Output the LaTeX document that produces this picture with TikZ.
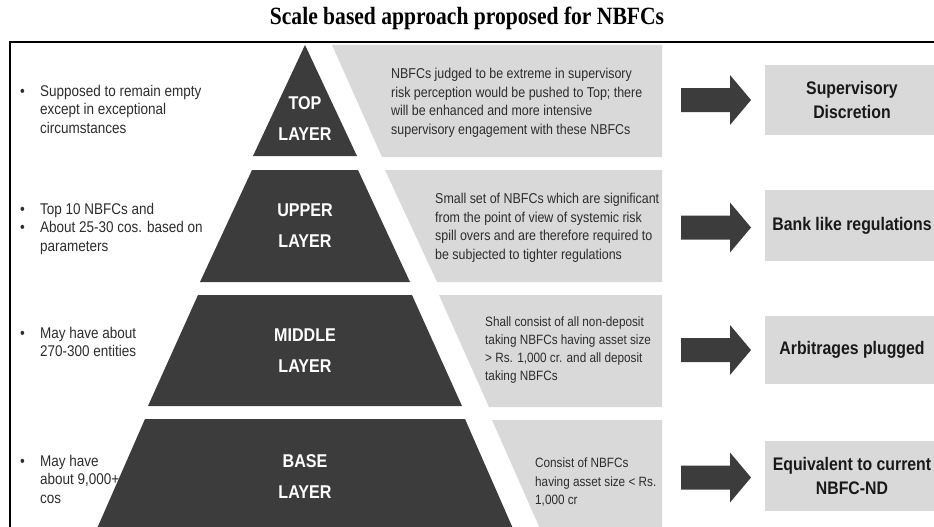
\documentclass[tikz,border=0pt]{standalone}
\usepackage{fontspec}
\usepackage{array}
\setmainfont{Liberation Sans}[FakeStretch=0.87]
\newfontfamily\titlefont{Liberation Serif}[FakeStretch=0.87]

\definecolor{pyr}{RGB}{60,60,60}
\definecolor{band}{RGB}{217,217,217}
\definecolor{txt}{RGB}{45,45,45}
\definecolor{boxtxt}{RGB}{25,25,25}

\tikzset{
  layerlabel/.style={text=white, font=\fontsize{18.5}{31}\selectfont\bfseries,
    align=center, inner sep=0},
  bandtext/.style={text=txt, font=\fontsize{14.3}{18.5}\selectfont,
    align=left, anchor=west, inner sep=0},
  smallband/.style={bandtext, font=\fontsize{13.5}{18.3}\selectfont},
  lefttext/.style={text=txt, font=\fontsize{15.5}{18.5}\selectfont,
    anchor=west, inner sep=0},
  outcome/.style={fill=band, text=boxtxt, font=\fontsize{18.2}{23.5}\selectfont\bfseries,
    align=center, minimum width=174pt, inner sep=0},
  blockarrow/.pic={
    \fill[pyr] (0,-12) -- (49,-12) -- (49,-25) -- (70,0) -- (49,25)
      -- (49,12) -- (0,12) -- cycle;
  },
}

\begin{document}
\begin{tikzpicture}[x=1pt, y=-1pt]
\useasboundingbox (0,0) rectangle (934,527);
\clip (0,0) rectangle (934,527);

% heading
\node[font=\titlefont\fontsize{24.8}{28}\selectfont\bfseries] (title) at (467,18)
  {Scale based approach proposed for NBFCs};

% pyramid layers
\fill[pyr] (305,45) -- (357,156) -- (253,156) -- cycle;
\fill[pyr] (252,170) -- (358,170) -- (410,282) -- (200,282) -- cycle;
\fill[pyr] (198,295) -- (412,295) -- (462,406) -- (148,406) -- cycle;
\fill[pyr] (145,419) -- (465,419) -- (518,540) -- (92,540) -- cycle;

\node[layerlabel] (lTop) at (305,119) {TOP\\LAYER};
\node[layerlabel] (lUpper) at (305,226) {UPPER\\LAYER};
\node[layerlabel] (lMiddle) at (305,351) {MIDDLE\\LAYER};
\node[layerlabel] (lBase) at (305,477) {BASE\\LAYER};

% description bands
\fill[band] (332,45) -- (662,45) -- (662,157) -- (382,157) -- cycle;
\fill[band] (385,170) -- (662,170) -- (662,282) -- (437,282) -- cycle;
\fill[band] (439,295) -- (662,295) -- (662,407) -- (489,407) -- cycle;
\fill[band] (492,420) -- (662,420) -- (662,540) -- (545,540) -- cycle;

\node[bandtext] (dTop) at (391,103) {NBFCs judged to be extreme in supervisory\\
  risk perception would be pushed to Top; there\\
  will be enhanced and more intensive\\
  supervisory engagement with these NBFCs};
\node[bandtext] (dUpper) at (435,228) {Small set of NBFCs which are significant\\
  from the point of view of systemic risk\\
  spill overs and are therefore required to\\
  be subjected to tighter regulations};
\node[smallband] (dMiddle) at (485,350) {Shall consist of all non-deposit\\
  taking NBFCs having asset size\\
  > Rs. 1,000 cr. and all deposit\\
  taking NBFCs};
\node[smallband] (dBase) at (535,482) {Consist of NBFCs\\
  having asset size < Rs.\\
  1,000 cr};

% left notes
\node[lefttext] (nTop) at (20,111) {\begin{tabular}{@{}p{20pt}@{}l@{}}
  \textbullet & Supposed to remain empty\\
   & except in exceptional\\
   & circumstances\end{tabular}};
\node[lefttext] (nUpper) at (20,229) {\begin{tabular}{@{}p{20pt}@{}l@{}}
  \textbullet & Top 10 NBFCs and\\
  \textbullet & About 25-30 cos. based on\\
   & parameters\end{tabular}};
\node[lefttext] (nMiddle) at (20,344) {\begin{tabular}{@{}p{20pt}@{}l@{}}
  \textbullet & May have about\\
   & 270-300 entities\end{tabular}};
\node[lefttext] (nBase) at (20,481) {\begin{tabular}{@{}p{20pt}@{}l@{}}
  \textbullet & May have\\
   & about 9,000+\\
   & cos\end{tabular}};

% outcomes
\node[outcome, minimum height=70pt] (oTop) at (852,100) {Supervisory\\Discretion};
\node[outcome, minimum height=71pt] (oUpper) at (852,225.5) {Bank like regulations};
\node[outcome, minimum height=68pt] (oMiddle) at (852,350) {Arbitrages plugged};
\node[outcome, minimum height=70pt] (oBase) at (852,476) {Equivalent to current\\NBFC-ND};

% block arrows
\pic at (681,100) {blockarrow};
\pic at (681,227.5) {blockarrow};
\pic at (681,350) {blockarrow};
\pic at (681,477.5) {blockarrow};

% frame
\draw[line width=1.5pt] (10,540) -- (10,42) -- (940,42);
\end{tikzpicture}
\end{document}
